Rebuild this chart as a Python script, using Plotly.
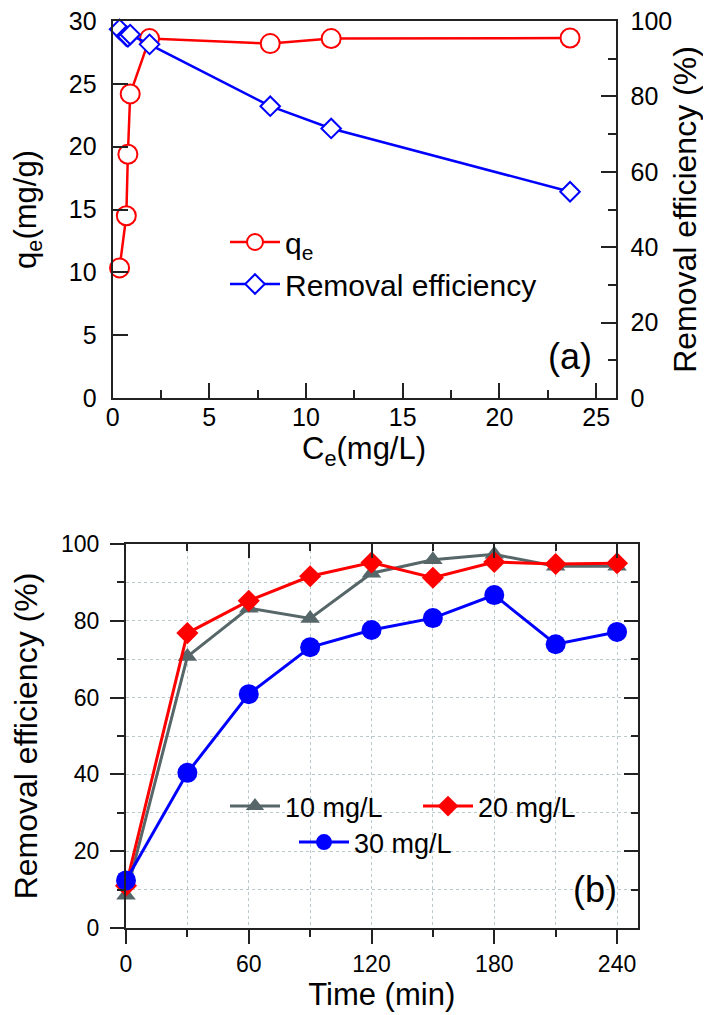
import plotly.graph_objects as go

# ---------- data: panel (a) ----------
ce = [0.36, 0.71, 0.79, 0.91, 1.91, 8.15, 11.3, 23.65]
qe = [10.35, 14.5, 19.4, 24.2, 28.6, 28.2, 28.6, 28.65]
removal_a = [97.8, 96.0, 95.8, 96.4, 93.8, 77.4, 71.5, 54.7]

# ---------- data: panel (b) ----------
time_min = [0, 30, 60, 90, 120, 150, 180, 210, 240]
r10 = [8.5, 70.7, 83.3, 80.6, 92.4, 95.9, 97.3, 94.2, 94.2]
r20 = [11.0, 76.8, 85.2, 91.6, 95.2, 91.2, 95.3, 94.8, 95.0]
r30 = [12.4, 40.4, 60.9, 73.1, 77.6, 80.7, 86.7, 73.9, 77.1]

W, H = 711, 1015
FONT = "Liberation Sans, Arial, sans-serif"
AX = "#222222"

def px(x):
    return x / W

def py(y):
    return 1 - y / H

fig = go.Figure()

# panel (a)
fig.add_trace(go.Scatter(
    x=ce, y=qe, mode="lines+markers", name="q<sub>e</sub>",
    line=dict(color="#FF0000", width=2.5),
    marker=dict(symbol="circle", size=19, color="white", line=dict(color="#FF0000", width=2)),
    xaxis="x", yaxis="y", legend="legend", cliponaxis=False))
fig.add_trace(go.Scatter(
    x=ce, y=removal_a, mode="lines+markers", name="Removal efficiency",
    line=dict(color="#0000FF", width=2.5),
    marker=dict(symbol="diamond", size=15, color="white", line=dict(color="#0000FF", width=2)),
    xaxis="x", yaxis="y2", legend="legend", cliponaxis=False))

# panel (b)
fig.add_trace(go.Scatter(
    x=time_min, y=r10, mode="lines+markers", name="10 mg/L",
    line=dict(color="#576769", width=3),
    marker=dict(symbol="triangle-up", size=17, color="#576769"),
    xaxis="x2", yaxis="y3", legend="legend2", cliponaxis=False))
fig.add_trace(go.Scatter(
    x=time_min, y=r20, mode="lines+markers", name="20 mg/L",
    line=dict(color="#FF0000", width=3),
    marker=dict(symbol="diamond", size=17, color="#FF0000"),
    xaxis="x2", yaxis="y3", legend="legend2", cliponaxis=False))
fig.add_trace(go.Scatter(
    x=time_min, y=r30, mode="lines+markers", name="30 mg/L",
    line=dict(color="#0000FF", width=3),
    marker=dict(symbol="circle", size=20, color="#0000FF"),
    xaxis="x2", yaxis="y3", legend="legend3", cliponaxis=False))
# helper trace to activate mirrored inner-tick axes of panel (b)
fig.add_trace(go.Scatter(x=[None], y=[None], xaxis="x3", yaxis="y4",
                         showlegend=False, hoverinfo="skip"))

tickfont_a = dict(family=FONT, size=25, color="black")
tickfont_b = dict(family=FONT, size=23, color="black")
def tf(size):
    return dict(family=FONT, size=size, color="black")
grid = dict(showgrid=True, gridcolor="#B9C9CC", griddash="dot", gridwidth=1)

top_x = [px(104.6), px(607.5)]
top_y = [py(390), py(13)]
bot_x = [px(118), px(629.5)]
bot_y = [py(920), py(536)]

fig.update_layout(
    width=W, height=H, autosize=False,
    margin=dict(l=0, r=0, t=0, b=0),
    paper_bgcolor="white", plot_bgcolor="white",
    font=dict(family=FONT, color="black"),
    xaxis=dict(domain=top_x, anchor="y", range=[0, 26], dtick=5, tick0=0,
               ticks="inside", ticklen=15, tickwidth=1.5, tickcolor=AX,
               minor=dict(dtick=2.5, ticks="inside", ticklen=8, tickcolor=AX),
               showline=True, linecolor=AX, linewidth=2, mirror=True,
               showgrid=False, zeroline=False, tickfont=tickfont_a,
               ticklabelstandoff=-4, ticklabeloverflow="allow",
               title=dict(text="C<sub>e</sub>(mg/L)", font=tf(31), standoff=0),
               automargin=False),
    yaxis=dict(domain=top_y, anchor="x", range=[0, 30], dtick=5,
               ticks="inside", ticklen=15, tickwidth=1.5, tickcolor=AX,
               showline=True, linecolor=AX, linewidth=2,
               showgrid=False, zeroline=False, tickfont=tickfont_a,
               ticklabelstandoff=9, ticklabeloverflow="allow",
               title=dict(text="q<sub>e</sub>(mg/g)", font=tf(31), standoff=30),
               automargin=False),
    yaxis2=dict(overlaying="y", side="right", anchor="x", range=[0, 100], dtick=20,
                ticks="inside", ticklen=15, tickwidth=1.5, tickcolor=AX,
                minor=dict(dtick=10, ticks="inside", ticklen=8, tickcolor=AX),
                showline=True, linecolor=AX, linewidth=2,
                showgrid=False, zeroline=False, tickfont=tickfont_a,
                ticklabelstandoff=8, ticklabeloverflow="allow",
                title=dict(text="Removal efficiency (%)", font=tf(32), standoff=2),
                automargin=False),
    xaxis2=dict(domain=bot_x, anchor="y3", range=[0, 250], dtick=60, tick0=0,
                ticks="outside", ticklen=14, tickwidth=1.5, tickcolor=AX,
                minor=dict(dtick=30, ticks="outside", ticklen=7, tickcolor=AX, **grid),
                showline=True, linecolor=AX, linewidth=2,
                zeroline=False, tickfont=tickfont_b, **grid,
                ticklabelstandoff=0, ticklabeloverflow="allow",
                title=dict(text="Time (min)", font=tf(31), standoff=0),
                automargin=False),
    yaxis3=dict(domain=bot_y, anchor="x2", range=[0, 100], dtick=20,
                ticks="outside", ticklen=14, tickwidth=1.5, tickcolor=AX,
                minor=dict(dtick=10, ticks="outside", ticklen=7, tickcolor=AX, **grid),
                showline=True, linecolor=AX, linewidth=2,
                zeroline=False, tickfont=tickfont_b, **grid,
                ticklabelstandoff=6, ticklabeloverflow="allow",
                title=dict(text="Removal efficiency (%)", font=tf(32), standoff=14),
                automargin=False),
    xaxis3=dict(overlaying="x2", side="top", anchor="y3", range=[0, 250], dtick=60, tick0=0,
                ticks="inside", ticklen=14, tickwidth=1.5, tickcolor=AX,
                minor=dict(dtick=30, ticks="inside", ticklen=7, tickcolor=AX),
                showline=True, linecolor=AX, linewidth=2, showticklabels=False,
                showgrid=False, zeroline=False, automargin=False),
    yaxis4=dict(overlaying="y3", side="right", anchor="x2", range=[0, 100], dtick=20,
                ticks="inside", ticklen=14, tickwidth=1.5, tickcolor=AX,
                minor=dict(dtick=10, ticks="inside", ticklen=7, tickcolor=AX),
                showline=True, linecolor=AX, linewidth=2, showticklabels=False,
                showgrid=False, zeroline=False, automargin=False),
    legend=dict(x=px(217), y=py(208), xanchor="left", yanchor="top",
                bgcolor="rgba(0,0,0,0)", font=tf(30),
                itemwidth=50, tracegroupgap=0),
    legend2=dict(x=px(217), y=py(774), xanchor="left", yanchor="top", orientation="h",
                 bgcolor="rgba(0,0,0,0)", font=tf(27),
                 entrywidth=128, entrywidthmode="pixels", itemwidth=50),
    legend3=dict(x=px(286), y=py(810), xanchor="left", yanchor="top", orientation="h",
                 bgcolor="rgba(0,0,0,0)", font=tf(27),
                 itemwidth=50),
    annotations=[
        dict(text="(a)", x=px(586), y=py(348), xref="paper", yref="paper",
             xanchor="right", yanchor="middle", showarrow=False,
             font=tf(36)),
        dict(text="(b)", x=px(611), y=py(881), xref="paper", yref="paper",
             xanchor="right", yanchor="middle", showarrow=False,
             font=tf(36)),
    ],
)

fig.write_html("out.html")
